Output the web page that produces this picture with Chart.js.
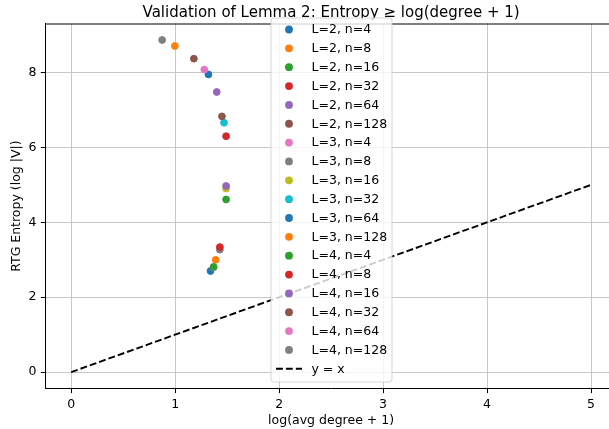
<!DOCTYPE html>
<html><head><meta charset="utf-8">
<script src="https://cdn.jsdelivr.net/npm/chart.js@4/dist/chart.umd.min.js"></script>
<style>html,body{margin:0;padding:0;background:#fff;overflow:hidden}canvas{display:block}</style>
</head><body><canvas id="c" width="630" height="429"></canvas>
<script>
const seriesLabels = ['L=2, n=4','L=2, n=8','L=2, n=16','L=2, n=32','L=2, n=64','L=2, n=128',
  'L=3, n=4','L=3, n=8','L=3, n=16','L=3, n=32','L=3, n=64','L=3, n=128',
  'L=4, n=4','L=4, n=8','L=4, n=16','L=4, n=32','L=4, n=64','L=4, n=128'];
const seriesColors = ['#1f77b4','#ff7f0e','#2ca02c','#d62728','#9467bd','#8c564b','#e377c2','#7f7f7f','#bcbd22','#17becf',
  '#1f77b4','#ff7f0e','#2ca02c','#d62728','#9467bd','#8c564b','#e377c2','#7f7f7f'];
const degreeX = [1.34, 1.39, 1.49, 1.49, 1.40, 1.18,
                 1.37, 1.43, 1.49, 1.47, 1.32, 0.997,
                 1.37, 1.43, 1.49, 1.45, 1.28, 0.875];
const entropyY = [2.70, 3.00, 4.61, 6.30, 7.48, 8.37,
                  2.80, 3.27, 4.90, 6.66, 7.95, 8.71,
                  2.81, 3.34, 4.97, 6.83, 8.08, 8.87];
const refLineX = [0, 5];
const refLineY = [0, 5];
const refLabel = 'y = x';
const xTicks = [0, 1, 2, 3, 4, 5];
const yTicks = [0, 2, 4, 6, 8];
const titleText = 'Validation of Lemma 2: Entropy \u2265 log(degree + 1)';
const xLabel = 'log(avg degree + 1)';
const yLabel = 'RTG Entropy (log |V|)';

const FONT = "'DejaVu Sans', sans-serif";
const datasets = seriesLabels.map((lab, i) => ({
  type: 'scatter', label: lab,
  data: [{x: degreeX[i], y: entropyY[i]}],
  backgroundColor: seriesColors[i], borderColor: seriesColors[i],
  pointRadius: 3.4, pointHoverRadius: 3.4, borderWidth: 1, order: 100 - i
}));
datasets.push({
  type: 'scatter', label: refLabel, showLine: true,
  data: refLineX.map((x, k) => ({x: x, y: refLineY[k]})),
  borderColor: '#000', backgroundColor: '#000', borderWidth: 1.9,
  borderDash: [6.9, 3.0], pointRadius: 0, order: 0
});

const deco = {
  id: 'deco',
  afterDraw(chart) {
    const ctx = chart.ctx, ca = chart.chartArea;
    ctx.save();
    // top and right spines
    ctx.strokeStyle = '#000'; ctx.lineWidth = 1;
    ctx.beginPath(); ctx.moveTo(ca.left, ca.top + 0.5); ctx.lineTo(ca.right, ca.top + 0.5);
    ctx.lineTo(ca.right, ca.bottom); ctx.stroke();
    const cx = (ca.left + ca.right) / 2;
    ctx.fillStyle = '#000';
    ctx.textAlign = 'center'; ctx.textBaseline = 'alphabetic';
    ctx.font = '15px ' + FONT;
    ctx.fillText(titleText, cx, 17);
    ctx.font = '12.5px ' + FONT;
    ctx.fillText(xLabel, cx, 424);
    // legend
    const lx = 271, ly = 18, lw = 121, lh = 364, r = 3;
    ctx.beginPath();
    ctx.moveTo(lx + r, ly); ctx.lineTo(lx + lw - r, ly); ctx.quadraticCurveTo(lx + lw, ly, lx + lw, ly + r);
    ctx.lineTo(lx + lw, ly + lh - r); ctx.quadraticCurveTo(lx + lw, ly + lh, lx + lw - r, ly + lh);
    ctx.lineTo(lx + r, ly + lh); ctx.quadraticCurveTo(lx, ly + lh, lx, ly + lh - r);
    ctx.lineTo(lx, ly + r); ctx.quadraticCurveTo(lx, ly, lx + r, ly); ctx.closePath();
    ctx.fillStyle = 'rgba(255,255,255,0.8)'; ctx.fill();
    ctx.strokeStyle = 'rgba(204,204,204,0.8)'; ctx.lineWidth = 1; ctx.stroke();
    ctx.textAlign = 'left'; ctx.textBaseline = 'middle';
    chart.data.datasets.forEach((ds, i) => {
      const y = 29.5 + i * 18.85;
      if (ds.showLine) {
        ctx.strokeStyle = ds.borderColor; ctx.lineWidth = ds.borderWidth;
        ctx.setLineDash(ds.borderDash);
        ctx.beginPath(); ctx.moveTo(276, y); ctx.lineTo(302, y); ctx.stroke();
        ctx.setLineDash([]);
      } else {
        ctx.fillStyle = ds.backgroundColor;
        ctx.beginPath(); ctx.arc(289, y, 3.9, 0, Math.PI * 2); ctx.fill();
      }
      ctx.fillStyle = '#000';
      ctx.fillText(ds.label, 311.5, y + 0.5);
    });
    ctx.restore();
  }
};

const gridCommon = {color: '#c8c8c8', lineWidth: 1, tickLength: 4.4, tickColor: '#000', tickWidth: 1};
const tickFont = {family: FONT, size: 12.5};
new Chart(document.getElementById('c'), {
  type: 'scatter',
  data: {datasets: datasets},
  options: {
    responsive: false, animation: false, devicePixelRatio: 1,
    layout: {padding: {top: 23.5, right: 13, left: 0, bottom: 0}},
    plugins: {legend: {display: false}, title: {display: false}, tooltip: {enabled: false}},
    scales: {
      x: {
        type: 'linear', min: -0.25, max: 5.25,
        afterBuildTicks: s => { s.ticks = xTicks.map(v => ({value: v})); },
        afterFit: s => { s.height = 40.3; },
        grid: gridCommon, border: {color: '#000', width: 1},
        ticks: {font: tickFont, color: '#000', padding: 4.4, maxRotation: 0, autoSkip: false},
      },
      y: {
        type: 'linear', min: -0.443, max: 9.31,
        afterBuildTicks: s => { s.ticks = yTicks.map(v => ({value: v})); },
        afterFit: s => { s.width = 45.2; },
        grid: gridCommon, border: {color: '#000', width: 1},
        ticks: {font: tickFont, color: '#000', padding: 4.4, autoSkip: false},
        title: {display: true, text: yLabel, color: '#000', font: {family: FONT, size: 12.5}, padding: {top: 9.5, bottom: 0}}
      }
    }
  },
  plugins: [deco]
});
</script>
</body></html>
